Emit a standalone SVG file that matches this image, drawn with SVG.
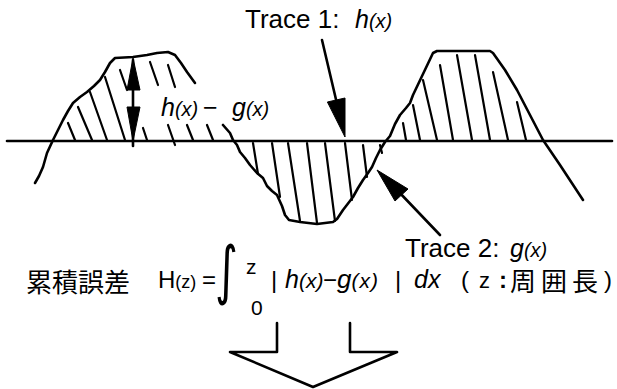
<svg xmlns="http://www.w3.org/2000/svg" width="617" height="389" viewBox="0 0 617 389">
<defs>
<style>
.ln{fill:none;stroke:#000;stroke-width:2.6;stroke-linecap:round;stroke-linejoin:round}
.ht{fill:none;stroke:#000;stroke-width:2.2;stroke-linecap:round}
.ah{fill:#000;stroke:#000;stroke-width:1;stroke-linejoin:miter}
.t{font-family:"Liberation Sans",Arial,sans-serif;fill:#000}
.i{font-style:italic}
.cjk{font-family:"Noto Sans CJK JP","Noto Sans CJK SC",sans-serif;fill:#000}
</style>
</defs>
<rect width="617" height="389" fill="#fff"/>

<g id="trace1">
<line class="ln" x1="7" y1="141" x2="612" y2="141"/>
</g>

<g id="trace2">
<polyline class="ln" points="35,183 39,176 43,167 47,153 53,140 58,130 63,120 68,111 73,103 80,97 87,92 94,86 100,80 105,72 110,63 115,58 133,57 147,55 157,53 168,52 175,55 181,63 187,72 195,83"/>
<polyline class="ln" points="223,125 230,133 233,140 237,145 240,152 245,158 250,165 257,173 263,178 267,186 272,191 277,195 282,206 285,215 289,220 300,222 317,224 333,222 337,219 343,210 353,197 358,188 363,180 368,173 372,167 376,158 380,150 385,142 390,136 395,124 400,115 406,108 410,103 413,95 433,53 437,51 490,51 493,53 505,70 517,90 530,115 543,140 560,165 583,200"/>
</g>

<g id="hatching">
<line class="ht" x1="68" y1="123" x2="75" y2="140"/>
<line class="ht" x1="78" y1="107" x2="92" y2="140"/>
<line class="ht" x1="90" y1="92" x2="107" y2="140"/>
<line class="ht" x1="105" y1="77" x2="125" y2="140"/>
<line class="ht" x1="120" y1="70" x2="127" y2="90"/>
<line class="ht" x1="150" y1="62" x2="158" y2="85"/>
<line class="ht" x1="168" y1="65" x2="175" y2="87"/>
<line class="ht" x1="143" y1="128" x2="147" y2="140"/>
<line class="ht" x1="168" y1="125" x2="175" y2="145"/>
<line class="ht" x1="187" y1="125" x2="193" y2="140"/>
<line class="ht" x1="207" y1="125" x2="213" y2="140"/>
<line class="ht" x1="253" y1="143" x2="258" y2="174"/>
<line class="ht" x1="272" y1="143" x2="280" y2="197"/>
<line class="ht" x1="288" y1="143" x2="300" y2="221"/>
<line class="ht" x1="307" y1="143" x2="317" y2="223"/>
<line class="ht" x1="325" y1="143" x2="335" y2="221"/>
<line class="ht" x1="345" y1="143" x2="352" y2="200"/>
<line class="ht" x1="363" y1="145" x2="367" y2="177"/>
<line class="ht" x1="380" y1="145" x2="382" y2="153"/>
<line class="ht" x1="403" y1="123" x2="406" y2="140"/>
<line class="ht" x1="413" y1="105" x2="420" y2="140"/>
<line class="ht" x1="423" y1="80" x2="437" y2="140"/>
<line class="ht" x1="440" y1="65" x2="453" y2="140"/>
<line class="ht" x1="457" y1="55" x2="472" y2="140"/>
<line class="ht" x1="475" y1="55" x2="490" y2="140"/>
<line class="ht" x1="493" y1="72" x2="508" y2="140"/>
<line class="ht" x1="517" y1="102" x2="526" y2="140"/>
</g>

<g id="connectors">
<line class="ln" x1="133" y1="60" x2="133" y2="146"/>
<polygon class="ah" points="133,58 140,90 127,90"/>
<polygon class="ah" points="133,141 140,107 127,107"/>
<line class="ln" x1="322" y1="40" x2="338" y2="108"/>
<polygon class="ah" points="345,137 345,98 327.4,102"/>
<line class="ln" x1="440" y1="235" x2="398" y2="191"/>
<polygon class="ah" points="377,170 408,189 395,201"/>
<polyline class="ln" points="277,323 277,352 230,352 313,387 397,352 350,352 350,323"/>
</g>

<g id="label-trace1">
<text class="t" x="245" y="28" font-size="26">Trace 1:</text>
<text class="t i" x="355" y="28" font-size="25">h<tspan font-size="20">(x)</tspan></text>
</g>

<g id="label-diff">
<text class="t i" x="161" y="116" font-size="25">h<tspan font-size="20">(x)</tspan></text>
<text class="t" x="203" y="116" font-size="25">−</text>
<text class="t i" x="232" y="116" font-size="25">g<tspan font-size="20">(x)</tspan></text>
</g>

<g id="label-trace2">
<text class="t" x="405" y="257" font-size="26">Trace 2:</text>
<text class="t i" x="510" y="257" font-size="25">g<tspan font-size="20">(x)</tspan></text>
</g>

<g id="formula">
<text class="cjk" x="26" y="292" font-size="26">累積誤差</text>
<text class="t" x="158" y="288" font-size="24">H<tspan font-size="18">(z)</tspan></text>
<text class="t" x="202" y="288" font-size="24">=</text>
<text transform="translate(215,292) scale(1.1,1.6)" font-size="40" font-family="DejaVu Sans, sans-serif">∫</text>
<text class="t" x="246" y="274" font-size="21">z</text>
<text class="t" x="251" y="315" font-size="21">0</text>
<text class="t" x="271" y="288" font-size="24">|</text>
<text class="t i" x="285" y="288" font-size="25">h<tspan font-size="21">(x)</tspan></text>
<text class="t" x="323" y="288" font-size="24">−</text>
<text class="t i" x="337" y="288" font-size="26">g<tspan font-size="21" letter-spacing="1">(x)</tspan></text>
<text class="t" x="395" y="288" font-size="24">|</text>
<text class="t i" x="414" y="288" font-size="25">dx</text>
<text class="t" x="461" y="288" font-size="24">(</text>
<text class="t" x="479" y="288" font-size="22">z</text>
<text class="t" x="499" y="288" font-size="24" font-weight="bold">:</text>
<text class="cjk" x="510" y="291" font-size="26" letter-spacing="5">周囲長</text>
<text class="t" x="604" y="288" font-size="24">)</text>
</g>
</svg>
